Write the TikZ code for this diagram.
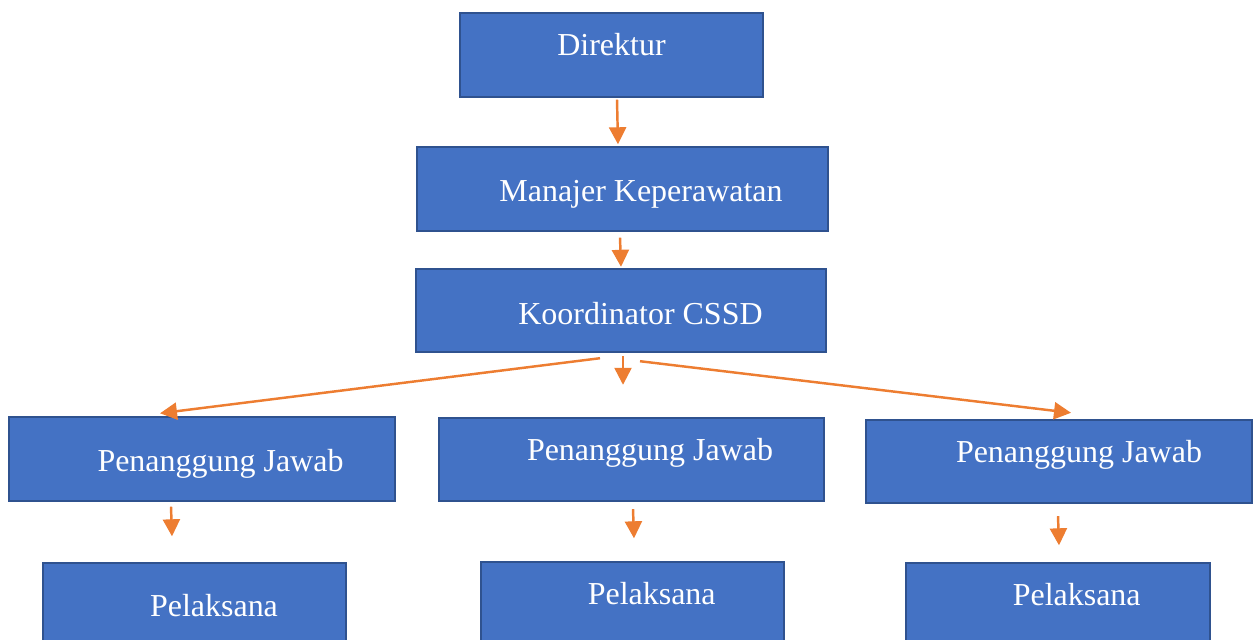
\documentclass[tikz,border=0pt]{standalone}
\usepackage{fontspec}
\setmainfont{Liberation Serif}
\usepackage{tikz}
\usetikzlibrary{arrows.meta,calc}
\definecolor{orgblue}{RGB}{68,114,196}
\definecolor{orgedge}{RGB}{47,82,143}
\definecolor{orgorange}{RGB}{237,125,49}

\begin{document}
\begin{tikzpicture}[x=0.02cm, y=-0.02cm,
orgbox/.style={draw=orgedge, fill=orgblue, line width=1.1pt, inner sep=0pt, minimum height=1.67cm},
lbl/.style={anchor=base, inner sep=0pt, text=white, font=\fontsize{18.2}{22}\selectfont},
arrow/.style={-{Triangle[length=0.34cm, width=0.34cm]}, line width=1.4pt, draw=orgorange}
]

\useasboundingbox (0,0) rectangle (1253,639);

\node[orgbox, minimum width=6.06cm] (dir) at (611.5,55) {};
\node[orgbox, minimum width=8.22cm] (man) at (622.5,189) {};
\node[orgbox, minimum width=8.2cm] (kor) at (621,310.5) {};
\node[orgbox, minimum width=7.72cm] (pj1) at (202,459) {};
\node[orgbox, minimum width=7.7cm] (pj2) at (631.5,459.5) {};
\node[orgbox, minimum width=7.72cm] (pj3) at (1059,461.5) {};
\node[orgbox, minimum width=6.06cm] (pl1) at (194.5,605) {};
\node[orgbox, minimum width=6.06cm] (pl2) at (632.5,604) {};
\node[orgbox, minimum width=6.08cm] (pl3) at (1058,605) {};

\node[lbl] (dirtxt) at (611.5,55) {Direktur};
\node[lbl] (mantxt) at (641,201.7) {Manajer Keperawatan};
\node[lbl] (kortxt) at (640.5,324) {Koordinator CSSD};
\node[lbl] (pj1txt) at (220.5,471.7) {Penanggung Jawab};
\node[lbl] (pj2txt) at (650,460) {Penanggung Jawab};
\node[lbl] (pj3txt) at (1079,462.7) {Penanggung Jawab};
\node[lbl] (pl1txt) at (214,616.7) {Pelaksana};
\node[lbl] (pl2txt) at (651.7,604.3) {Pelaksana};
\node[lbl] (pl3txt) at (1076.7,605) {Pelaksana};

\draw[arrow] ($(dir.south)+(5.5,2)$) -- ($(man.north)+(-4.5,-2)$);
\draw[arrow] ($(man.south)+(-2.5,6)$) -- ($(kor.north)+(0,-1)$);
\draw[arrow] ($(kor.south)+(-21,5)$) -- ($(pj1.north)+(-42,-3)$);
\draw[arrow] ($(kor.south)+(2,3)$) -- ($(pj2.north)+(-8.5,-32)$);
\draw[arrow] ($(kor.south)+(19,8)$) -- ($(pj3.north)+(12,-6)$);
\draw[arrow] ($(pj1.south)+(-31,5)$) -- ($(pl1.north)+(-22.5,-26)$);
\draw[arrow] ($(pj2.south)+(1.5,7)$) -- ($(pl2.north)+(1.5,-23)$);
\draw[arrow] ($(pj3.south)+(-1,12)$) -- ($(pl3.north)+(1,-17)$);

\end{tikzpicture}
\end{document}
